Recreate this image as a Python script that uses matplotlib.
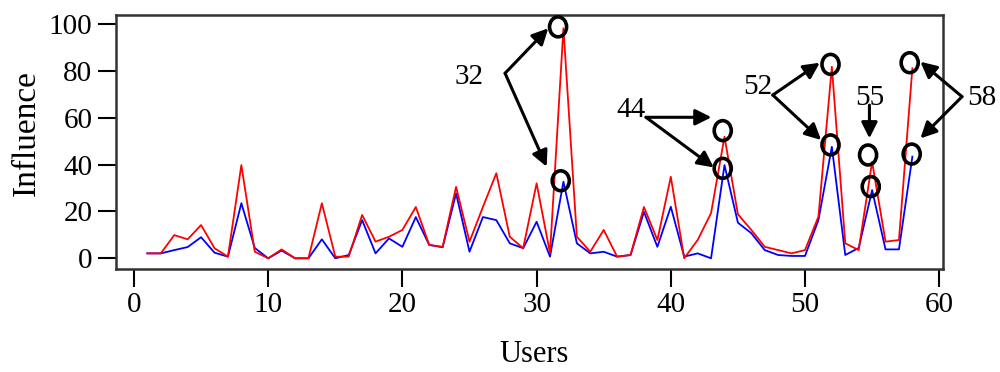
import numpy as np
import matplotlib
matplotlib.use("Agg")
import matplotlib.pyplot as plt
from matplotlib.patches import Ellipse

plt.rcParams['font.family'] = ['Liberation Serif', 'DejaVu Serif']

# influence per user
users = np.arange(1, 59)
red_vals = [2.1, 2.1, 9.9, 8.1, 14.2, 4.3, 0.7, 39.8, 2.8, 0.0,
            3.8, 0.0, 0.0, 23.5, 0.7, 0.7, 18.5, 7.1, 9.2, 12.1,
            21.9, 5.7, 4.9, 30.5, 7.1, 21.9, 36.3, 9.2, 4.3, 32.0,
            2.2, 98.2, 9.2, 2.8, 12.1, 0.7, 1.4, 21.9, 7.8, 34.8,
            0.0, 7.8, 19.3, 51.9, 18.8, 12.1, 4.9, 3.5, 2.1, 3.5,
            17.8, 81.8, 6.4, 3.5, 41.2, 7.1, 7.8, 81.1]
blue_vals = [2.1, 2.1, 3.5, 4.8, 9.0, 2.4, 0.7, 23.5, 4.4, 0.0,
             3.3, 0.0, 0.0, 8.1, 0.0, 1.4, 16.3, 2.1, 8.5, 4.9,
             17.6, 5.7, 4.7, 27.7, 2.8, 17.6, 16.3, 6.4, 4.3, 15.6,
             0.7, 32.7, 6.4, 2.1, 2.8, 0.7, 1.4, 19.8, 4.9, 22.0,
             0.7, 2.1, 0.0, 39.8, 15.2, 10.7, 3.5, 1.4, 1.0, 1.0,
             16.3, 47.6, 1.4, 4.4, 29.1, 3.8, 3.8, 43.4]

# highlighted users: label, label pos, arrow start, arrow tips, circle centres
notes = [
    ("32", (25.0, 77.5), (27.65, 79.0), [(30.87, 98.2), (30.75, 39.1)],
     [(31.6, 98.8), (31.8, 33.1)]),
    ("44", (37.0, 63.3), (38.15, 60.2), [(43.03, 60.2), (43.2, 38.8)],
     [(43.87, 54.5), (43.87, 38.4)]),
    ("52", (46.5, 73.2), (47.6, 69.7), [(51.1, 83.5), (51.2, 50.5)],
     [(51.9, 82.8), (51.9, 48.4)]),
    ("55", (54.84, 68.3), (54.8, 65.4), [(54.8, 51.2)],
     [(54.7, 44.1), (54.9, 30.6)]),
    ("58", (63.2, 68.3), (61.7, 69.0), [(58.6, 83.9), (58.6, 51.2)],
     [(57.8, 83.5), (57.95, 44.5)]),
]

fig = plt.figure(figsize=(10, 3.72), dpi=100)
ax = fig.add_axes([0.116, 0.2777, 0.8267, 0.6828])

ax.plot(users, blue_vals, color='#0000ff', lw=1.3)
ax.plot(users, red_vals, color='#ff0000', lw=1.3)

ax.set_xlim(-1.34, 60.26)
ax.set_ylim(-4.44, 104.0)
ax.set_xticks(range(0, 61, 10))
ax.set_yticks(range(0, 101, 20))
ax.tick_params(direction='out', length=13, width=1.5, labelsize=21, pad=4)
for s in ax.spines.values():
    s.set_linewidth(1.8)
    s.set_color('#333333')

# axis titles placed by figure position
fig.text(0.534, 0.046, 'Users', fontsize=22, ha='center', va='center')
fig.text(0.026, 0.642, 'Influence', fontsize=24, ha='center', va='center',
         rotation=90)

for label, tpos, start, tips, circles in notes:
    ax.text(tpos[0], tpos[1], label, fontsize=21, ha='center', va='center',
            clip_on=False)
    for tip in tips:
        ax.annotate('', xy=tip, xytext=start, annotation_clip=False,
                    arrowprops=dict(arrowstyle='-|>', color='black', lw=2.2,
                                    mutation_scale=24, shrinkA=0, shrinkB=0))
    for c in circles:
        ax.add_patch(Ellipse(c, 1.27, 8.5, fill=False, ec='black', lw=2.6,
                             clip_on=False, zorder=5))

fig.savefig('out.png', dpi=100)
